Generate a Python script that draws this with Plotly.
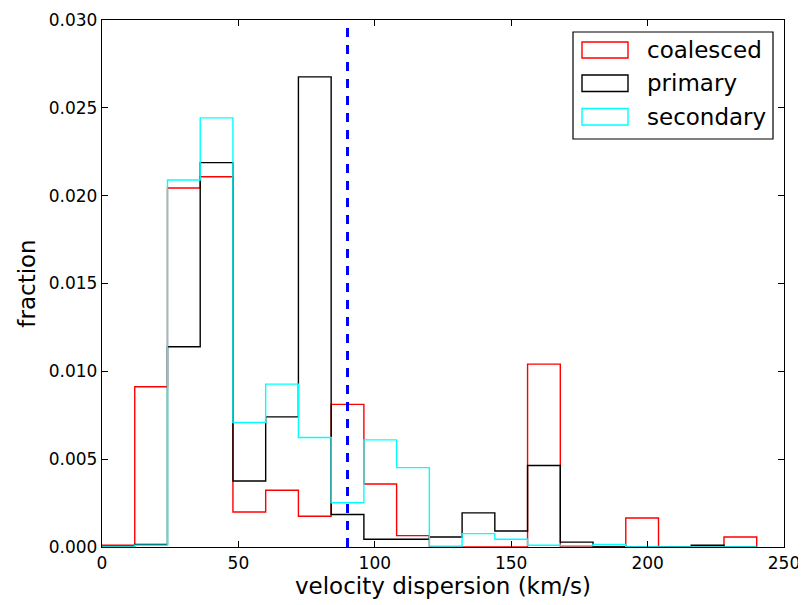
import plotly.graph_objects as go

# ---- data ----
bin_edges = [0, 12, 24, 36, 48, 60, 72, 84, 96, 108, 120, 132, 144, 156, 168, 180, 192, 204, 216, 228, 240]
coalesced = [0.0001, 0.00912, 0.02044, 0.02108, 0.00199, 0.00323, 0.00175, 0.00812, 0.00359, 0.00065,
             0.0, 0.0, 0.0, 0.01041, 0.0, 0.0, 0.00165, 0.0, 0.0, 0.00057]
primary = [0.0, 0.00015, 0.0114, 0.02188, 0.00376, 0.00741, 0.02676, 0.00185, 0.00044, 0.00044,
           0.00057, 0.00194, 0.00091, 0.00464, 0.00028, 0.0, 0.0, 0.0, 0.0001, 0.0]
secondary = [0.0, 0.0001, 0.02089, 0.02443, 0.00709, 0.00927, 0.00623, 0.00252, 0.0061, 0.00452,
             0.00005, 0.00076, 0.00044, 0.0001, 0.00008, 0.00014, 0.0, 0.0, 0.0, 0.0]
series_names = ["coalesced", "primary", "secondary"]
series_colors = ["red", "black", "cyan"]
vline_x = 90
x_ticks = [0, 50, 100, 150, 200, 250]
y_ticks = [0.0, 0.005, 0.010, 0.015, 0.020, 0.025, 0.030]

FONT = "DejaVu Sans"
W, H = 806, 605
OFF = 8  # page body margin offset
L, T = 102 - OFF, 20 - OFF
R = W - (784 - OFF)
B = H - (547 - OFF)
pw, ph = W - L - R, H - T - B


def step_xy(edges, vals):
    xs = [edges[0]] + list(edges[:-1]) + [edges[-1], edges[-1]]
    ys = [0] + list(vals) + [vals[-1], 0]
    return xs, ys


fig = go.Figure()
for name, vals, col in zip(series_names, [coalesced, primary, secondary], series_colors):
    xs, ys = step_xy(bin_edges, vals)
    fig.add_trace(go.Scatter(x=xs, y=ys, mode="lines", line=dict(color=col, width=1.4, shape="hv"),
                             name=name, showlegend=False))

# dashed vertical line
fig.add_shape(type="line", xref="x", yref="paper", x0=vline_x, x1=vline_x, y0=0, y1=1,
              line=dict(color="blue", width=3, dash="9px,8px"))


def px2paper(px, py):
    # px, py are screen coordinates of the reference picture
    return (px - OFF - L) / pw, (H - B - (py - OFF)) / ph


# manual legend
bx0, by0 = px2paper(573, 32)
bx1, by1 = px2paper(773, 139)
fig.add_shape(type="rect", xref="paper", yref="paper", x0=bx0, y0=by1, x1=bx1, y1=by0,
              line=dict(color="black", width=1.2), fillcolor="white", layer="above")
rows = [(42, 58), (75, 91.5), (108.5, 125)]
for (ya, yb), name, col in zip(rows, series_names, series_colors):
    sx0, sy0 = px2paper(582, ya)
    sx1, sy1 = px2paper(628, yb)
    fig.add_shape(type="rect", xref="paper", yref="paper", x0=sx0, y0=sy1, x1=sx1, y1=sy0,
                  line=dict(color=col, width=1.4), fillcolor="rgba(0,0,0,0)", layer="above")
    tx, ty = px2paper(645, (ya + yb) / 2)
    fig.add_annotation(x=tx, y=ty, xref="paper", yref="paper", text=name, showarrow=False,
                       xanchor="left", yanchor="middle", font=dict(family=FONT, size=23, color="black"))

axis_common = dict(showline=True, linecolor="black", linewidth=1.3, mirror="ticks", ticks="inside",
                   ticklen=6, tickwidth=1.2, tickcolor="black", showgrid=False, zeroline=False,
                   automargin=False, tickfont=dict(family=FONT, size=17, color="black"))
fig.update_xaxes(range=[0, 250], tickvals=x_ticks, ticktext=[str(v) for v in x_ticks],
                 title=dict(text="velocity dispersion (km/s)", font=dict(family=FONT, size=23, color="black"),
                            standoff=6), **axis_common)
fig.update_yaxes(range=[0, 0.030], tickvals=y_ticks, ticktext=[f"{v:.3f}" for v in y_ticks],
                 title=dict(text="fraction", font=dict(family=FONT, size=23, color="black"), standoff=6),
                 **axis_common)
fig.update_layout(width=W, height=H, margin=dict(l=L, r=R, t=T, b=B), plot_bgcolor="white",
                  paper_bgcolor="white", showlegend=False)
fig.write_html("out.html")
